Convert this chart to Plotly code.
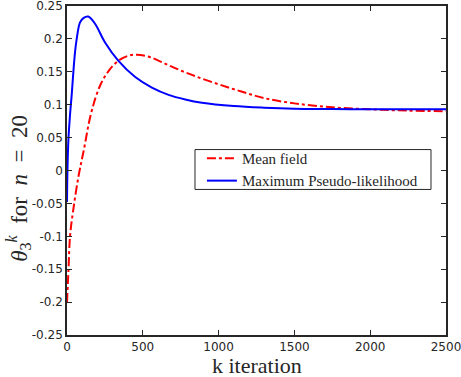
import plotly.graph_objects as go

# iteration index and parameter estimates
k_mf = [0, 10, 20, 40, 75, 110, 160, 220, 280, 340, 400, 460, 550, 650, 750,
        850, 1000, 1150, 1300, 1500, 1750, 2000, 2250, 2500]
theta_mf = [-0.2, -0.15, -0.1, -0.062, -0.01, 0.03, 0.088, 0.13, 0.153, 0.167,
            0.174, 0.176, 0.172, 0.162, 0.152, 0.143, 0.131, 0.12, 0.11, 0.102,
            0.096, 0.093, 0.091, 0.09]

k_mpl = [0, 3, 9, 20, 31, 42, 53, 64, 86, 110, 140, 185, 250, 338, 450, 560,
         670, 780, 890, 1100, 1300, 1500, 1750, 2000, 2250, 2500]
theta_mpl = [-0.048, 0.0, 0.045, 0.085, 0.115, 0.15, 0.18, 0.2, 0.225, 0.232,
             0.234, 0.223, 0.195, 0.167, 0.142, 0.126, 0.115, 0.108, 0.103,
             0.098, 0.0955, 0.094, 0.0935, 0.093, 0.093, 0.093]

y_ticks = [-0.25, -0.2, -0.15, -0.1, -0.05, 0, 0.05, 0.1, 0.15, 0.2, 0.25]
y_labels = ["-0.25", "-0.2", "-0.15", "-0.1", "-0.05", "0", "0.05", "0.1",
            "0.15", "0.2", "0.25"]
x_ticks = [0, 500, 1000, 1500, 2000, 2500]

fig = go.Figure()

fig.add_trace(go.Scatter(
    x=k_mf, y=theta_mf, mode="lines", name="Mean field",
    line=dict(color="#ff0000", width=2, dash="dashdot", shape="spline", smoothing=1)
))
fig.add_trace(go.Scatter(
    x=k_mpl, y=theta_mpl, mode="lines", name="Maximum Pseudo-likelihood",
    line=dict(color="#0000ff", width=2, shape="spline", smoothing=1)
))

axis_style = dict(
    showline=True, linecolor="#262626", linewidth=1.5, mirror="ticks",
    ticks="inside", ticklen=5, tickwidth=1.2, tickcolor="#262626",
    showgrid=False, zeroline=False, automargin=False,
    ticklabeloverflow="allow",
    tickfont=dict(family="DejaVu Sans", size=12, color="#262626"),
)

fig.update_xaxes(range=[0, 2500], tickvals=x_ticks,
                 ticktext=[str(v) for v in x_ticks], **axis_style)
fig.update_yaxes(range=[-0.25, 0.25], tickvals=y_ticks, ticktext=y_labels,
                 **axis_style)

fig.update_layout(
    width=461, height=377,
    margin=dict(l=67, r=15, t=6, b=42, autoexpand=False),
    paper_bgcolor="white", plot_bgcolor="white",
    showlegend=True,
    legend=dict(
        x=0.356, y=0.587, xanchor="left", yanchor="top",
        bgcolor="rgba(0,0,0,0)", borderwidth=0,
        font=dict(family="Liberation Serif", size=15, color="#262626"),
        tracegroupgap=0, itemwidth=30,
    ),
    shapes=[
        # legend frame
        dict(type="rect", xref="paper", yref="paper",
             x0=0.3377, x1=0.9604, y0=0.4424, y1=0.5636,
             line=dict(color="#262626", width=1), fillcolor="white",
             layer="above"),
    ],
    annotations=[
        dict(text="k iteration", xref="paper", yref="paper", x=0.5, y=-0.092,
             xanchor="center", yanchor="middle", showarrow=False,
             font=dict(family="Liberation Serif", size=22, color="#262626")),
        dict(text="<i>θ</i><sub>3</sub><sup><i>k</i></sup>  for  <i>n</i>  =  20",
             xref="paper", yref="paper", x=-0.127, y=0.447, textangle=-90,
             xanchor="center", yanchor="middle", showarrow=False,
             font=dict(family="Liberation Serif", size=23, color="#262626")),
    ],
)

fig.write_html("out.html", config={"displayModeBar": False},
               post_script="document.body.style.margin='0';document.body.style.overflow='hidden';")
